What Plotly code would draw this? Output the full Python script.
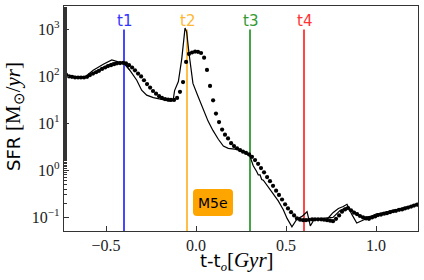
import plotly.graph_objects as go

# ---------------- data ----------------
# dotted run (black dots), time in Gyr relative to t_o, SFR in Msun/yr
dots_t = [-0.722, -0.705, -0.689, -0.672, -0.655, -0.639, -0.622, -0.605, -0.589, -0.572,
          -0.555, -0.539, -0.522, -0.505, -0.489, -0.472, -0.455, -0.439, -0.422, -0.405,
          -0.389, -0.372, -0.355, -0.339, -0.322, -0.305, -0.289, -0.272, -0.255, -0.239,
          -0.222, -0.205, -0.189, -0.172, -0.155, -0.139, -0.122, -0.105, -0.089, -0.072,
          -0.055, -0.039, -0.022, -0.005, 0.011, 0.028, 0.045, 0.061, 0.078, 0.095,
          0.111, 0.128, 0.145, 0.161, 0.178, 0.195, 0.211, 0.228, 0.245, 0.261,
          0.278, 0.295, 0.311, 0.328, 0.345, 0.361, 0.378, 0.395, 0.411, 0.428,
          0.445, 0.461, 0.478, 0.495, 0.511, 0.528, 0.545, 0.561, 0.578, 0.595,
          0.611, 0.628, 0.645, 0.661, 0.678, 0.695, 0.711, 0.728, 0.745, 0.761,
          0.778, 0.795, 0.811, 0.828, 0.845, 0.861, 0.878, 0.895, 0.911, 0.928,
          0.945, 0.961, 0.978, 0.995, 1.011, 1.028, 1.045, 1.061, 1.078, 1.095,
          1.111, 1.128, 1.145, 1.161, 1.178, 1.195, 1.211, 1.228]
dots_sfr = [110, 100, 98, 95, 95, 95, 95, 98, 107, 115,
            123, 132, 145, 155, 166, 174, 182, 190, 193, 195,
            190, 174, 155, 135, 115, 100, 83, 69, 58, 49,
            43, 38, 35, 33, 32, 31.6, 31.6, 35, 47, 76,
            204, 302, 324, 339, 335, 316, 251, 138, 63, 31,
            16.2, 10.7, 7.4, 5.75, 4.8, 3.8, 3.3, 2.95, 2.7, 2.5,
            2.35, 2.19, 1.95, 1.66, 1.38, 1.12, 0.91, 0.72, 0.59, 0.47,
            0.37, 0.30, 0.24, 0.19, 0.155, 0.129, 0.110, 0.095, 0.089, 0.087,
            0.087, 0.089, 0.091, 0.091, 0.091, 0.091, 0.089, 0.087, 0.085, 0.083,
            0.093, 0.110, 0.132, 0.148, 0.158, 0.141, 0.126, 0.117, 0.107, 0.100,
            0.095, 0.093, 0.100, 0.105, 0.112, 0.115, 0.120, 0.123, 0.129, 0.135,
            0.138, 0.145, 0.148, 0.155, 0.162, 0.170, 0.178, 0.186]

# main solid run
line_t = [-0.722, -0.672, -0.617, -0.571, -0.515, -0.468, -0.432, -0.404, -0.367, -0.329,
          -0.302, -0.274, -0.237, -0.182, -0.144, -0.126, -0.119, -0.098, -0.079, -0.061,
          -0.052, -0.039, -0.029, -0.017, 0.011, 0.039, 0.067, 0.094, 0.124, 0.152,
          0.179, 0.226, 0.263, 0.300, 0.318, 0.337, 0.346, 0.356, 0.365, 0.374,
          0.393, 0.421, 0.457, 0.485, 0.506, 0.533, 0.561, 0.589, 0.617, 0.635,
          0.654, 0.682, 0.726, 0.761, 0.791, 0.818, 0.839, 0.865, 0.893, 0.921,
          0.967, 1.041, 1.115, 1.189, 1.237]
line_sfr = [107, 98, 98, 135, 182, 224, 204, 195, 135, 83,
            51, 40, 35.5, 32, 30, 33, 50, 78, 240, 1070,
            890, 316, 141, 71, 38, 20, 11.2, 7.1, 4.6, 3.3,
            2.95, 2.8, 2.5, 2.0, 1.26, 0.95, 0.80, 0.80, 0.64, 0.62,
            0.49, 0.355, 0.224, 0.145, 0.095, 0.063, 0.093, 0.105, 0.132, 0.066,
            0.087, 0.093, 0.089, 0.126, 0.155, 0.170, 0.19, 0.117, 0.076, 0.085,
            0.102, 0.123, 0.145, 0.174, 0.20]

# second thin solid run (visible where it separates from the main one)
line2_t = [-0.722, -0.617, -0.571, -0.515, -0.461, -0.422, -0.394, -0.367,
           None,
           0.700, 0.761, 0.800, 0.840, 0.880, 0.930, 0.970, 1.000, 1.050, 1.100, 1.150, 1.200, 1.237]
line2_sfr = [105, 96, 120, 158, 195, 200, 190, 135,
             None,
             0.095, 0.100, 0.140, 0.165, 0.130, 0.100, 0.105, 0.118, 0.128, 0.140, 0.155, 0.172, 0.19]

event_names = ["t1", "t2", "t3", "t4"]
event_times = [-0.4, -0.05, 0.3, 0.6]
event_colors = ["rgb(51,51,255)", "rgb(255,183,51)", "rgb(51,153,51)", "rgb(255,51,51)"]

y_ticks = [0.1, 1, 10, 100, 1000]
y_tick_labels = ["10<sup>\u22121</sup>", "10<sup>0</sup>", "10<sup>1</sup>",
                 "10<sup>2</sup>", "10<sup>3</sup>"]
x_ticks = [-0.5, 0.0, 0.5, 1.0]
x_tick_labels = ["\u22120.5", "0.0", "0.5", "1.0"]
label_text = "M5e"

# ---------------- layout constants ----------------
W, H = 424, 280
ML, MR, MT, MB = 64, 6, 6, 49
PW, PH = W - ML - MR, H - MT - MB
x_range = [-0.7333, 1.2333]
y_range = [-1.29, 3.5]
SERIF = "Liberation Serif"
SANS = "DejaVu Sans"

fig = go.Figure()

for name, t, c in zip(event_names, event_times, event_colors):
    fig.add_trace(go.Scatter(x=[t, t], y=[10 ** y_range[0], y_ticks[-1]], mode="lines",
                             line=dict(color=c, width=1.8), hoverinfo="skip", showlegend=False))

fig.add_trace(go.Scatter(x=line2_t, y=line2_sfr, mode="lines", connectgaps=False,
                         line=dict(color="black", width=1.1), showlegend=False))
fig.add_trace(go.Scatter(x=line_t, y=line_sfr, mode="lines",
                         line=dict(color="black", width=1.2), showlegend=False))
fig.add_trace(go.Scatter(x=dots_t, y=dots_sfr, mode="markers",
                         marker=dict(color="black", size=4.2, line=dict(width=0)),
                         showlegend=False))

annotations = []
for name, t, c in zip(event_names, event_times, event_colors):
    annotations.append(dict(x=t, y=3, xref="x", yref="y", text=name, showarrow=False,
                            yanchor="bottom", yshift=-3,
                            font=dict(family=SANS, size=15, color=c)))


def to_paper(px, py):
    return (px - ML) / PW, (H - MB - py) / PH


# rounded label box (pixel geometry converted to paper coords)
bx0, by0, bx1, by1, r = 193, 189, 233, 216, 4
pts = [("M", bx0 + r, by0), ("L", bx1 - r, by0), ("Q", bx1, by0, bx1, by0 + r),
       ("L", bx1, by1 - r), ("Q", bx1, by1, bx1 - r, by1), ("L", bx0 + r, by1),
       ("Q", bx0, by1, bx0, by1 - r), ("L", bx0, by0 + r), ("Q", bx0, by0, bx0 + r, by0)]
path = ""
for p in pts:
    cmd = p[0]
    coords = p[1:]
    s = []
    for i in range(0, len(coords), 2):
        xp, yp = to_paper(coords[i], coords[i + 1])
        s.append(f"{xp:.4f},{yp:.4f}")
    path += cmd + " " + " ".join(s) + " "
path += "Z"

shapes = [dict(type="path", path=path, xref="paper", yref="paper",
               fillcolor="#ffa500", line=dict(width=0), layer="above")]

cx, cy = to_paper((bx0 + bx1) / 2, (by0 + by1) / 2)
annotations.append(dict(x=cx, y=cy, xref="paper", yref="paper", text=label_text,
                        showarrow=False, xanchor="center", yanchor="middle",
                        font=dict(family=SANS, size=14, color="black")))

# axis titles
tx, ty = to_paper(14, 117)
annotations.append(dict(x=tx, y=ty, xref="paper", yref="paper", textangle=-90,
                        showarrow=False, xanchor="center", yanchor="middle",
                        text=f'SFR <span style="font-family:{SERIF};font-size:21px">[M<sub>\u2299</sub>/<i>yr</i>]</span>',
                        font=dict(family=SANS, size=18, color="black")))
tx, ty = to_paper(237, 261)
annotations.append(dict(x=tx, y=ty, xref="paper", yref="paper",
                        showarrow=False, xanchor="center", yanchor="middle",
                        text=f't-t<sub><i style="font-family:{SERIF}">o</i></sub><span style="font-family:{SERIF};font-size:21px">[<i>Gyr</i>]</span>',
                        font=dict(family=SANS, size=18, color="black")))

fig.update_layout(
    width=W, height=H,
    margin=dict(l=ML, r=MR, t=MT, b=MB, autoexpand=False),
    paper_bgcolor="white", plot_bgcolor="white",
    showlegend=False,
    hovermode=False,
    annotations=annotations,
    shapes=shapes,
    xaxis=dict(range=x_range, tickvals=x_ticks, ticktext=x_tick_labels, automargin=False,
               ticks="inside", ticklen=5, tickwidth=1, tickcolor="#333",
               showline=True, linecolor="#333", linewidth=1.2, mirror=True,
               showgrid=False, zeroline=False,
               tickfont=dict(family=SERIF, size=16, color="#222")),
    yaxis=dict(type="log", range=y_range, tickvals=y_ticks, ticktext=y_tick_labels,
               automargin=False,
               ticks="inside", ticklen=5, tickwidth=1, tickcolor="#333",
               minor=dict(ticks="inside", ticklen=2.5, tickcolor="#333", showgrid=False),
               showline=True, linecolor="#333", linewidth=1.2, mirror=True,
               showgrid=False, zeroline=False,
               tickfont=dict(family=SERIF, size=16, color="#222")),
)

fig.write_html("out.html", config={"displayModeBar": False},
               post_script="document.body.style.margin='0px';")
